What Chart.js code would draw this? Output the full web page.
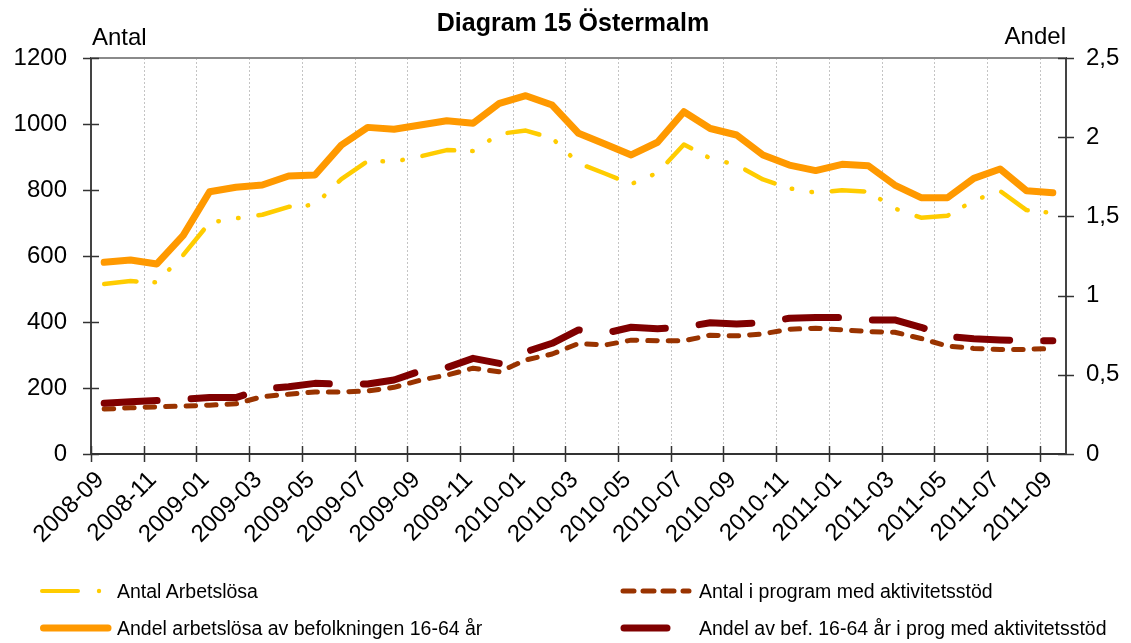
<!DOCTYPE html>
<html>
<head>
<meta charset="utf-8">
<script src="https://cdn.jsdelivr.net/npm/chart.js@4/dist/chart.umd.min.js"></script>
<style>
html,body{margin:0;padding:0;background:#fff;}
#wrap{position:relative;width:1131px;height:643px;font-family:"Liberation Sans",Arial,sans-serif;color:#000;overflow:hidden;}
#c{position:absolute;left:0;top:0;}
.t{position:absolute;white-space:nowrap;line-height:1;}
#leg{position:absolute;left:0;top:0;pointer-events:none;}
</style>
</head>
<body>
<div id="wrap">
  <canvas id="c" width="1131" height="643"></canvas>
  <div class="t" style="left:0;width:1146px;text-align:center;top:10px;font-size:25px;font-weight:bold;">Diagram 15 Östermalm</div>
  <div class="t" style="left:92px;top:25px;font-size:24px;">Antal</div>
  <div class="t" style="right:65px;top:24px;font-size:24px;">Andel</div>
  <svg id="leg" width="1131" height="643">
    <line x1="42" y1="591" x2="78" y2="591" stroke="#FFCC00" stroke-width="4" stroke-linecap="round"/>
    <circle cx="99" cy="591" r="2.2" fill="#FFCC00"/>
    <line x1="43.5" y1="628" x2="108" y2="628" stroke="#FF9900" stroke-width="7" stroke-linecap="round"/>
    <line x1="623" y1="591" x2="689" y2="591" stroke="#993300" stroke-width="5" stroke-linecap="round" stroke-dasharray="11 9"/>
    <line x1="624" y1="628" x2="667" y2="628" stroke="#800000" stroke-width="7" stroke-linecap="round"/>
  </svg>
  <div class="t" style="left:117px;top:582px;font-size:19.5px;">Antal Arbetslösa</div>
  <div class="t" style="left:117px;top:619px;font-size:19.5px;">Andel arbetslösa av befolkningen 16-64 år</div>
  <div class="t" style="left:699px;top:582px;font-size:19.5px;">Antal i program med aktivitetsstöd</div>
  <div class="t" style="left:699px;top:619px;font-size:19.5px;">Andel av bef. 16-64 år i prog med aktivitetsstöd</div>
</div>
<script>
const months = ['2008-09','2008-10','2008-11','2008-12','2009-01','2009-02','2009-03','2009-04','2009-05','2009-06','2009-07','2009-08',
  '2009-09','2009-10','2009-11','2009-12','2010-01','2010-02','2010-03','2010-04','2010-05','2010-06','2010-07','2010-08',
  '2010-09','2010-10','2010-11','2010-12','2011-01','2011-02','2011-03','2011-04','2011-05','2011-06','2011-07','2011-08','2011-09'];

const antalArbetslosa = [515,524,520,603,701,714,725,749,755,833,888,886,902,921,918,970,980,957,881,850,818,852,938,896,876,832,805,792,799,795,744,716,722,768,797,739,730];
const antalProgram = [136,140,143,145,148,152,174,181,188,188,191,202,224,239,260,249,285,303,335,330,345,343,343,360,358,364,378,381,376,371,369,350,327,320,317,317,320];
const andelArbetslosa = [1.21,1.225,1.20,1.38,1.656,1.684,1.698,1.755,1.761,1.95,2.062,2.05,2.077,2.104,2.088,2.214,2.262,2.203,2.025,1.957,1.888,1.968,2.161,2.055,2.014,1.888,1.824,1.789,1.829,1.82,1.698,1.618,1.618,1.74,1.799,1.662,1.65];
const andelProgram = [0.320,0.330,0.337,0.345,0.356,0.356,0.41,0.425,0.446,0.44,0.442,0.467,0.524,0.545,0.604,0.572,0.645,0.699,0.783,0.762,0.80,0.791,0.80,0.829,0.821,0.829,0.857,0.861,0.861,0.846,0.846,0.80,0.741,0.728,0.72,0.715,0.715];

const leftTicks = {min:0, max:1200, step:200};
const rightTicks = {min:0, max:2.5, step:0.5};

const FONT = '"Liberation Sans", Arial, sans-serif';

const decor = {
  id: 'decor',
  beforeDatasetsDraw(chart) {
    const {ctx, chartArea: a, scales: {x}} = chart;
    const step = x.getPixelForValue(1) - x.getPixelForValue(0);
    ctx.save();
    ctx.strokeStyle = '#c4c4c4';
    ctx.lineWidth = 1;
    ctx.setLineDash([2, 2]);
    for (let i = 2; i < months.length; i += 2) {
      const px = Math.round(x.getPixelForValue(i) - step / 2) + 0.5;
      ctx.beginPath(); ctx.moveTo(px, a.top); ctx.lineTo(px, a.bottom); ctx.stroke();
    }
    ctx.restore();
  },
  afterDraw(chart) {
    const {ctx, chartArea: a, scales: {x, y, y1}} = chart;
    const step = x.getPixelForValue(1) - x.getPixelForValue(0);
    ctx.save();
    ctx.strokeStyle = '#8a8a8a';
    ctx.lineWidth = 2;
    ctx.beginPath(); ctx.moveTo(a.left, a.top); ctx.lineTo(a.right, a.top); ctx.stroke();
    ctx.strokeStyle = '#333';
    ctx.lineWidth = 1.5;
    y.ticks.forEach((t, i) => {
      const py = Math.round(y.getPixelForTick(i)) + 0.5;
      ctx.beginPath(); ctx.moveTo(a.left - 8, py); ctx.lineTo(a.left + 8, py); ctx.stroke();
    });
    y1.ticks.forEach((t, i) => {
      const py = Math.round(y1.getPixelForTick(i)) + 0.5;
      ctx.beginPath(); ctx.moveTo(a.right - 8, py); ctx.lineTo(a.right + 8, py); ctx.stroke();
    });
    for (let i = 0; i < months.length; i += 2) {
      const px = Math.round(x.getPixelForValue(i) - step / 2) + 0.5;
      ctx.beginPath(); ctx.moveTo(px, a.bottom - 8); ctx.lineTo(px, a.bottom + 8); ctx.stroke();
    }
    ctx.restore();
  }
};

new Chart(document.getElementById('c'), {
  type: 'line',
  data: {
    labels: months,
    datasets: [
      {label: 'Antal Arbetslösa', data: antalArbetslosa, yAxisID: 'y', borderColor: '#FFCC00', borderWidth: 4.5,
       borderDash: [32.5, 18, 0.5, 19.5, 0.5, 20], borderCapStyle: 'round', borderJoinStyle: 'round', order: 3},
      {label: 'Antal i program med aktivitetsstöd', data: antalProgram, yAxisID: 'y', borderColor: '#993300', borderWidth: 5,
       borderDash: [9.5, 11], borderCapStyle: 'round', borderJoinStyle: 'round', order: 2},
      {label: 'Andel arbetslösa av befolkningen 16-64 år', data: andelArbetslosa, yAxisID: 'y1', borderColor: '#FF9900', borderWidth: 7,
       borderCapStyle: 'round', borderJoinStyle: 'round', order: 1},
      {label: 'Andel av bef. 16-64 år i prog med aktivitetsstöd', data: andelProgram, yAxisID: 'y1', borderColor: '#800000', borderWidth: 7,
       borderDash: [53, 34], borderCapStyle: 'round', borderJoinStyle: 'round', order: 0}
    ]
  },
  options: {
    responsive: false,
    animation: false,
    layout: {padding: {top: 58, left: 0, right: 0, bottom: 0}},
    elements: {point: {radius: 0, hoverRadius: 0}, line: {tension: 0, fill: false}},
    plugins: {legend: {display: false}, title: {display: false}, tooltip: {enabled: false}},
    scales: {
      x: {
        type: 'category', offset: true,
        grid: {display: false, drawTicks: false},
        border: {display: true, color: '#333', width: 2},
        ticks: {autoSkip: false, minRotation: 45, maxRotation: 45, padding: 12, labelOffset: -4, color: '#000',
          font: {family: FONT, size: 24},
          callback: (v, i) => (i % 2 === 0 ? months[i] : '')},
        afterFit(s) { s.height = 189; }
      },
      y: {
        position: 'left', min: leftTicks.min, max: leftTicks.max,
        grid: {display: false, drawTicks: false},
        border: {display: true, color: '#444', width: 2},
        ticks: {stepSize: leftTicks.step, padding: 24, color: '#000', font: {family: FONT, size: 24},
          callback: v => String(v)},
        afterFit(s) { s.width = 91; }
      },
      y1: {
        position: 'right', min: rightTicks.min, max: rightTicks.max,
        grid: {display: false, drawTicks: false},
        border: {display: true, color: '#444', width: 2},
        ticks: {stepSize: rightTicks.step, padding: 20, color: '#000', font: {family: FONT, size: 24},
          callback: v => String(v).replace('.', ',')},
        afterFit(s) { s.width = 65; }
      }
    }
  },
  plugins: [decor]
});
</script>
</body>
</html>
